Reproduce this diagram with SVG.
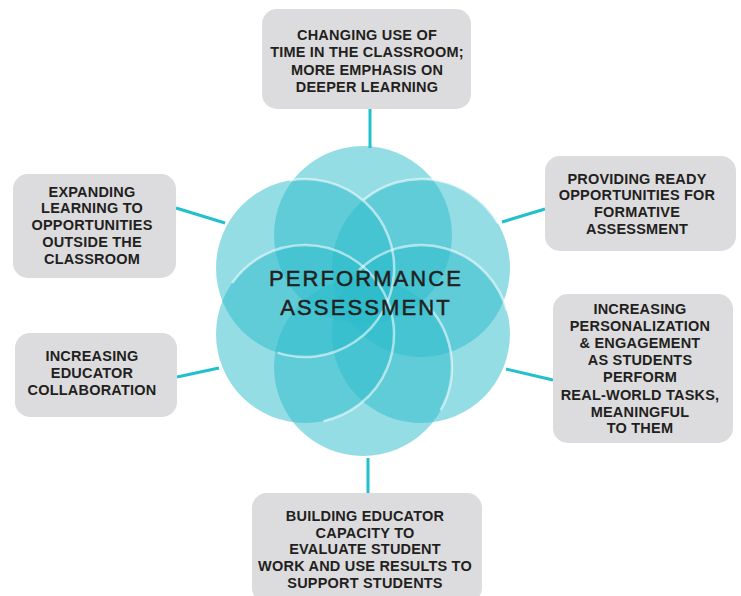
<svg xmlns="http://www.w3.org/2000/svg" width="741" height="596" viewBox="0 0 741 596">
<style>
.box{fill:#DCDCDE}
.lbl{font-family:"Liberation Sans",Arial,sans-serif;font-weight:bold;font-size:14.5px;letter-spacing:0.2px;fill:#231F20;text-anchor:middle}
.con{stroke:#22BFCC;stroke-width:3;fill:none}
.c{fill:#2CBCCB;fill-opacity:0.5}
.arc{fill:none;stroke:#FFFFFF;stroke-opacity:0.55;stroke-width:2.5}
.title{font-family:"Liberation Sans",Arial,sans-serif;font-size:22px;fill:#231F20;stroke:#231F20;stroke-width:0.5;text-anchor:middle;letter-spacing:2.1px}
</style>
<rect width="741" height="596" fill="#FFFFFF"/>
<g id="connectors">
<line class="con" x1="370" y1="109" x2="370" y2="148"/>
<line class="con" x1="176" y1="208" x2="225" y2="223"/>
<line class="con" x1="502" y1="222" x2="545" y2="209"/>
<line class="con" x1="506" y1="369" x2="553" y2="380"/>
<line class="con" x1="368" y1="458" x2="368" y2="493"/>
<line class="con" x1="177" y1="377" x2="219" y2="368"/>
</g>
<g id="hub">
<circle class="c" cx="363" cy="235" r="89"/>
<circle class="c" cx="363" cy="367" r="89"/>
<circle class="c" cx="305" cy="268" r="89"/>
<circle class="c" cx="421" cy="268" r="89"/>
<circle class="c" cx="305" cy="334" r="89"/>
<circle class="c" cx="421" cy="334" r="89"/>
<path class="arc" d="M289.5,180.4 A89,89 0 1 1 277.5,352.6"/>
<path class="arc" d="M232.1,283.0 A89,89 0 1 1 323.5,421.1"/>
<path class="arc" d="M363.8,199.8 A89,89 0 0 1 498.1,223.5"/>
<path class="arc" d="M359.2,270.0 A89,89 0 0 1 507.0,311.0"/>
<path class="arc" d="M429.1,307.4 A89,89 0 0 1 440.8,410.1"/>
<text class="title" x="366" y="286">PERFORMANCE</text>
<text class="title" x="366" y="315">ASSESSMENT</text>
</g>
<g id="n-time">
<rect class="box" x="262" y="9" width="209" height="100" rx="15"/>
<text class="lbl" x="367" y="40">CHANGING USE OF</text>
<text class="lbl" x="367" y="57">TIME IN THE CLASSROOM;</text>
<text class="lbl" x="367" y="75">MORE EMPHASIS ON</text>
<text class="lbl" x="367" y="92">DEEPER LEARNING</text>
</g>
<g id="n-expanding">
<rect class="box" x="13" y="174" width="163" height="104" rx="15"/>
<text class="lbl" x="92" y="197">EXPANDING</text>
<text class="lbl" x="92" y="213">LEARNING TO</text>
<text class="lbl" x="92" y="230">OPPORTUNITIES</text>
<text class="lbl" x="92" y="247">OUTSIDE THE</text>
<text class="lbl" x="92" y="264">CLASSROOM</text>
</g>
<g id="n-formative">
<rect class="box" x="545" y="156" width="191" height="95" rx="15"/>
<text class="lbl" x="637" y="184">PROVIDING READY</text>
<text class="lbl" x="637" y="200">OPPORTUNITIES FOR</text>
<text class="lbl" x="637" y="217">FORMATIVE</text>
<text class="lbl" x="637" y="234">ASSESSMENT</text>
</g>
<g id="n-personalization">
<rect class="box" x="553" y="294" width="180" height="149" rx="15"/>
<text class="lbl" x="640" y="314">INCREASING</text>
<text class="lbl" x="640" y="331">PERSONALIZATION</text>
<text class="lbl" x="640" y="348">&amp; ENGAGEMENT</text>
<text class="lbl" x="640" y="365">AS STUDENTS</text>
<text class="lbl" x="640" y="382">PERFORM</text>
<text class="lbl" x="640" y="400">REAL-WORLD TASKS,</text>
<text class="lbl" x="640" y="417">MEANINGFUL</text>
<text class="lbl" x="640" y="433">TO THEM</text>
</g>
<g id="n-capacity">
<rect class="box" x="252" y="493" width="230" height="110" rx="15"/>
<text class="lbl" x="365" y="521">BUILDING EDUCATOR</text>
<text class="lbl" x="365" y="538">CAPACITY TO</text>
<text class="lbl" x="365" y="554">EVALUATE STUDENT</text>
<text class="lbl" x="365" y="571">WORK AND USE RESULTS TO</text>
<text class="lbl" x="365" y="588">SUPPORT STUDENTS</text>
</g>
<g id="n-collaboration">
<rect class="box" x="15" y="333" width="162" height="84" rx="15"/>
<text class="lbl" x="92" y="361">INCREASING</text>
<text class="lbl" x="92" y="378">EDUCATOR</text>
<text class="lbl" x="92" y="395">COLLABORATION</text>
</g>
</svg>
